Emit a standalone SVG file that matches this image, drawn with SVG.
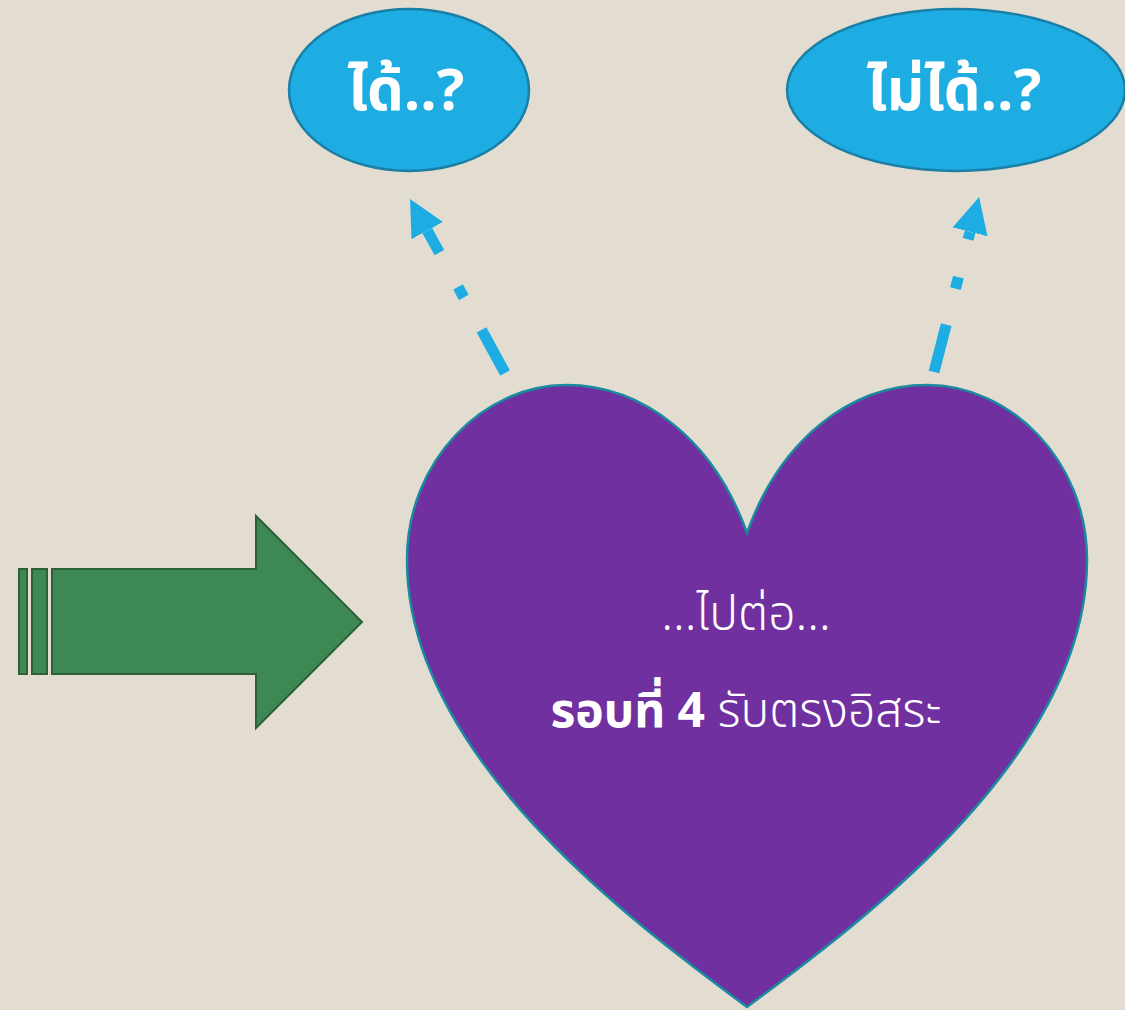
<svg xmlns="http://www.w3.org/2000/svg" width="1125" height="1010" viewBox="0 0 1125 1010">
<style>
.bubble{fill:#1EADE3;stroke:#1A7FA6;stroke-width:2.5}
.btxt{font-family:"Noto Sans Thai","Noto Sans","DejaVu Sans",sans-serif;font-weight:bold;font-size:58px;fill:#FFFFFF;text-anchor:middle}
.conn{stroke:#1EADE3;stroke-width:11;fill:none;stroke-dasharray:49 37 12 39}
.htxt{font-family:"Noto Sans Thai","Noto Sans","DejaVu Sans",sans-serif;font-size:48px;fill:#FFFFFF;font-weight:300}
.green{fill:#3E8853;stroke:#2C6039;stroke-width:2}
</style>
<defs>
<marker id="ah" markerUnits="userSpaceOnUse" viewBox="0 0 36 36" markerWidth="36" markerHeight="36" refX="0" refY="18" orient="auto">
<path d="M0,0 L36,18 L0,36 Z" fill="#1EADE3"/>
</marker>
</defs>
<rect width="1125" height="1010" fill="#E3DDD1"/>
<g id="node-yes">
<ellipse class="bubble" cx="409" cy="90" rx="120" ry="81"/>
<text class="btxt" x="406" y="110">ได้..?</text>
</g>
<g id="node-no">
<ellipse class="bubble" cx="956" cy="90" rx="169" ry="81"/>
<text class="btxt" x="954" y="110">ไม่ได้..?</text>
</g>
<g id="node-heart">
<path d="M747,533 C780,440 850,385 927,385 C1010,385 1087,460 1087,560 C1087,760 850,930 747,1007 C644,930 407,760 407,560 C407,460 484,385 566,385 C643,385 714,440 747,533 Z" fill="#7030A0" stroke="#1A8AA0" stroke-width="2.5"/>
<text class="htxt" x="746" y="630" text-anchor="middle">...ไปต่อ...</text>
<text class="htxt" x="746" y="727" text-anchor="middle" font-size="49"><tspan font-weight="bold">รอบที่ 4</tspan> รับตรงอิสระ</text>
</g>
<g id="node-arrow">
<rect class="green" x="19" y="569" width="8" height="105"/>
<rect class="green" x="32" y="569" width="15" height="105"/>
<polygon class="green" points="52,569 256,569 256,516 362,622 256,728 256,674 52,674"/>
</g>
<g id="connectors">
<line class="conn" x1="505" y1="373" x2="427.3" y2="230.6" marker-end="url(#ah)"/>
<line class="conn" x1="934" y1="372" x2="970.1" y2="231.8" marker-end="url(#ah)"/>
</g>
</svg>
